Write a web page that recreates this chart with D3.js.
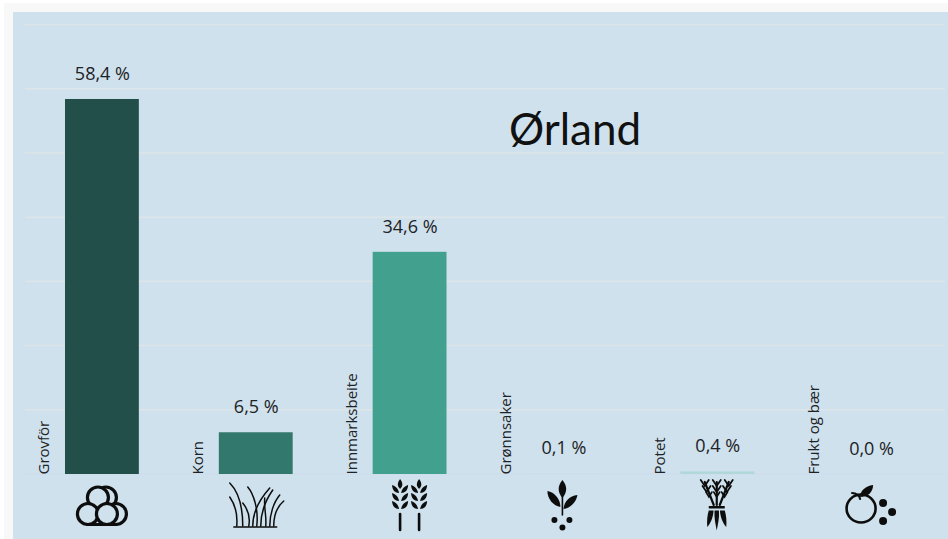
<!DOCTYPE html>
<html><head><meta charset="utf-8">
<script src="https://cdnjs.cloudflare.com/ajax/libs/d3/7.8.5/d3.min.js"></script>
<style>html,body{margin:0;padding:0;background:#fff;overflow:hidden}svg{display:block}</style>
</head><body><div id="c"></div>
<script>
const categories = ["Grovför","Korn","Innmarksbeite","Grønnsaker","Potet","Frukt og bær"];
const values = [58.4,6.5,34.6,0.1,0.4,0.0];
const valueLabels = ["58,4 %","6,5 %","34,6 %","0,1 %","0,4 %","0,0 %"];
const barColors = ["#234f4a","#32786c","#42a08f","#c9dfe8","#b0d8d8","#cfe6e6"];
const gridTicks = [0,10,20,30,40,50,60,70];
const title = "Ørland";

const svg = d3.select("#c").append("svg").attr("width",948).attr("height",539);
svg.append("rect").attr("x",4).attr("y",3).attr("width",944).attr("height",536).attr("fill","#f9f8f8");
svg.append("rect").attr("x",13).attr("y",12).attr("width",935).attr("height",527).attr("fill","#cee1ec");

const x = d3.scaleBand().domain(categories).range([25,948]).paddingInner(0.52).paddingOuter(0.26);
const y = d3.scaleLinear().domain([0,70]).range([474,24.5]);
const font = "'Open Sans',sans-serif";

svg.append("g").selectAll("line").data(gridTicks).join("line")
  .attr("x1",25).attr("x2",945)
  .attr("y1",d=>y(d)).attr("y2",d=>y(d))
  .attr("stroke",d=>d===0?"#cfdcec":"#dde5e9").attr("stroke-width",1.5);

svg.append("g").selectAll("rect").data(values).join("rect")
  .attr("x",(d,i)=>x(categories[i])).attr("width",x.bandwidth())
  .attr("y",d=>y(d)).attr("height",d=>y(0)-y(d))
  .attr("fill",(d,i)=>barColors[i]);

svg.append("g").selectAll("text").data(valueLabels).join("text")
  .attr("x",(d,i)=>x(categories[i])+x.bandwidth()/2+0.5)
  .attr("y",(d,i)=>y(values[i])-19)
  .attr("text-anchor","middle").attr("font-family",font).attr("font-size",18)
  .attr("fill","#1d2226").text(d=>d);

svg.append("g").selectAll("text").data(categories).join("text")
  .attr("transform",d=>`translate(${x(d)-15.5},474.5) rotate(-90)`)
  .attr("font-family",font).attr("font-size",15).attr("fill","#1d2226").text(d=>d);

svg.append("text").attr("x",575).attr("y",145).attr("text-anchor","middle")
  .attr("font-family","Lato,sans-serif").attr("font-size",44).attr("fill","#111").text(title);

/* pictograms, placed on the band centres */
const ic = categories.map(c=>svg.append("g").attr("transform",`translate(${x(c)+x.bandwidth()/2},510)`));
const ink="#0d0d0d";
const ring=(g,cx,cy,r,sw=3.2)=>g.append("circle").attr("cx",cx).attr("cy",cy).attr("r",r).attr("fill","none").attr("stroke",ink).attr("stroke-width",sw);
const fillP=(g,d)=>g.append("path").attr("d",d).attr("fill",ink);
const strokeP=(g,d,w)=>g.append("path").attr("d",d).attr("fill","none").attr("stroke",ink).attr("stroke-width",w).attr("stroke-linecap","round");

// bales
[[4,-12.5,10.5],[14,4,10.5]].forEach(a=>ring(ic[0],a[0],a[1],a[2]));
[[-4,-12.5,10.5],[-14,4,10.5],[5,4,10.5]].forEach(a=>{
  ic[0].append("circle").attr("cx",a[0]).attr("cy",a[1]).attr("r",a[2]).attr("fill","#cee1ec").attr("stroke",ink).attr("stroke-width",3.2);
});
strokeP(ic[0],"M-14 14.5H14",3);

// grass
const grass=ic[1].append("g").attr("transform","translate(-1,-10)");
strokeP(grass,"M-21 27H22",1.3);
["M-12 26C-12 10,-14 -6,-25 -17","M-18 26C-17 14,-20 4,-25 -3","M2 26C4 10,-1 -6,-7 -13","M-6 26C-4 16,-8 8,-12 3",
 "M-2 26C-2 12,6 -2,15 -12","M6 26C6 12,11 0,18 -10","M11 26C12 16,9 8,10 -2","M19 26C19 14,23 6,29 1","M15 26C15 14,19 2,25 -5"]
 .forEach(d=>strokeP(grass,d,1.5));

// wheat
[-9.5,9.5].forEach(dx=>{
  const g=ic[2].append("g").attr("transform",`translate(${dx},0)`);
  strokeP(g,"M0 4V20",2.6);
  fillP(g,"M0 -31C3 -27,3 -24,0 -21C-3 -24,-3 -27,0 -31Z");
  [-23,-15,-7].forEach(t=>{
    fillP(g,`M-1 ${t+6}C-2 ${t+1},-5 ${t-1},-8 ${t-2}C-8 ${t+3},-5 ${t+6},-1 ${t+6}Z`);
    fillP(g,`M1 ${t+6}C2 ${t+1},5 ${t-1},8 ${t-2}C8 ${t+3},5 ${t+6},1 ${t+6}Z`);
  });
});

// sprout
const sprout=ic[3].append("g").attr("transform","translate(-1,0)");
strokeP(sprout,"M0 5V-14",1.6);
fillP(sprout,"M0 -30C5 -24,5 -18,0 -12C-5 -18,-5 -24,0 -30Z");
fillP(sprout,"M-2 -3C-2 -11,-8 -18,-15 -19C-15 -11,-9 -4,-2 -3Z");
fillP(sprout,"M1 -1C2 -9,7 -14,15 -15C14 -8,8 -2,1 -1Z");
[[-8,10],[7,10],[0,17.5]].forEach(a=>sprout.append("circle").attr("cx",a[0]).attr("cy",a[1]).attr("r",3).attr("fill",ink));

// carrots
const car=ic[4].append("g").attr("transform","translate(-0.5,0)");
[[-12,-3],[0,0],[12,3]].forEach(a=>{
  strokeP(car,`M${a[0]} -28L${a[1]} -5`,2.2);
  strokeP(car,`M${a[0]-4} -30L${a[0]} -24L${a[0]+4} -30`,1.8);
  strokeP(car,`M${a[0]*0.85-4} -24L${a[0]*0.85} -18L${a[0]*0.85+4} -24`,1.8);
  strokeP(car,`M${a[0]*0.65-3} -18L${a[0]*0.65} -13L${a[0]*0.65+3} -18`,1.6);
});
fillP(car,"M-8 -4H8V-1.5H-8Z");
fillP(car,"M-8 0.5H-3.2C-3.5 7,-6 13,-9.5 17C-10 11,-9.5 5,-8 0.5Z");
fillP(car,"M-2.2 0.5H2.2C2.8 8,1 15,0 20.5C-1 15,-2.8 8,-2.2 0.5Z");
fillP(car,"M3.2 0.5H8C9.5 5,10 11,9.5 17C6 13,3.5 7,3.2 0.5Z");

// apple
const ap=ic[5];
ap.append("ellipse").attr("cx",-10).attr("cy",-1.5).attr("rx",14.5).attr("ry",14).attr("fill","none").attr("stroke",ink).attr("stroke-width",2.6);
strokeP(ap,"M-19 -17C-15 -17,-11 -14,-11 -11",2.2);
fillP(ap,"M-11 -13C-11 -19,-6 -24,2 -25C2 -18,-3 -13,-11 -13Z");
[[12,-7],[21,2],[12,11]].forEach(a=>ap.append("circle").attr("cx",a[0]).attr("cy",a[1]).attr("r",4).attr("fill",ink));
</script></body></html>
